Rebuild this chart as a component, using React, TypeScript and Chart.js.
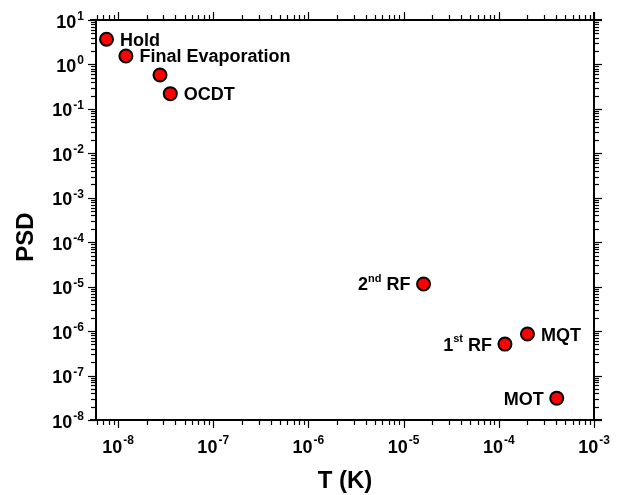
import React, { useEffect, useRef } from "react";
import { Chart, registerables } from "chart.js";

Chart.register(...registerables);

// ---- data ----
const labelMain = ["Hold", "Final Evaporation", "", "OCDT", "2", "1", "MQT", "MOT"];
const labelSup = ["", "", "", "", "nd", "st", "", ""];
const labelTail = ["", "", "", "", " RF", " RF", "", ""];
const labelSide = ["right", "right", "right", "right", "left", "left", "right", "left"];
const temperatureK = [7.57e-9, 1.21e-8, 2.76e-8, 3.54e-8, 1.62e-5, 1.16e-4, 2.0e-4, 4.06e-4];
const psd = [3.7, 1.55, 0.58, 0.22, 1.15e-5, 5.1e-7, 8.6e-7, 3.1e-8];
const xTickExponents = [-8, -7, -6, -5, -4, -3];
const yTickExponents = [1, 0, -1, -2, -3, -4, -5, -6, -7, -8];
const xMin = 5.87e-9;
const xMax = 1e-3;
const yMin = 1e-8;
const yMax = 10;
const xTitle = "T (K)";
const yTitle = "PSD";

const FONT = "'Liberation Sans', Arial, Helvetica, sans-serif";

function drawPow(
  ctx: CanvasRenderingContext2D,
  exp: number,
  x: number,
  cy: number,
  align: "center" | "right",
  supRaise: number
) {
  const base = "10";
  const sup = exp < 0 ? "-" + Math.abs(exp) : String(exp);
  ctx.font = `bold 18px ${FONT}`;
  const wb = ctx.measureText(base).width;
  ctx.font = `bold 12px ${FONT}`;
  const ws = ctx.measureText(sup).width;
  const total = wb + 1 + ws;
  const start = align === "center" ? x - total / 2 : x - total;
  ctx.textAlign = "left";
  ctx.textBaseline = "alphabetic";
  ctx.font = `bold 18px ${FONT}`;
  ctx.fillText(base, start, cy + 6.5);
  ctx.font = `bold 12px ${FONT}`;
  ctx.fillText(sup, start + wb + 1, cy - supRaise);
}

const overlayPlugin = {
  id: "overlay",
  afterDraw(chart: any) {
    const ctx: CanvasRenderingContext2D = chart.ctx;
    const xs = chart.scales.x;
    const ys = chart.scales.y;
    const L = xs.left, R = xs.right, T = ys.top, B = ys.bottom;
    const line = (x1: number, y1: number, x2: number, y2: number) => {
      ctx.beginPath();
      ctx.moveTo(x1, y1);
      ctx.lineTo(x2, y2);
      ctx.stroke();
    };
    ctx.save();
    ctx.strokeStyle = "#000";
    ctx.fillStyle = "#000";
    ctx.lineWidth = 2;
    line(L - 6, T, R + 8, T);
    line(L - 6, B, R + 8, B);
    line(L, T, L, B + 1);
    line(R, T - 8, R, B + 1);

    ctx.lineWidth = 1.2;
    for (let e = -9; e <= -3; e++) {
      for (let m = 1; m <= 9; m++) {
        const v = m * Math.pow(10, e);
        if (v < xs.min * 0.999 || v > xs.max * 1.001) continue;
        const px = Math.round(xs.getPixelForValue(v)) + 0.5;
        const len = m === 1 ? 8 : 5;
        line(px, B, px, B + len);
        line(px, T, px, T - len);
      }
    }
    for (let e = -8; e <= 1; e++) {
      for (let m = 1; m <= 9; m++) {
        const v = m * Math.pow(10, e);
        if (v < ys.min * 0.999 || v > ys.max * 1.001) continue;
        const py = Math.round(ys.getPixelForValue(v)) + 0.5;
        const len = m === 1 ? 8 : 5;
        line(L - len, py, L, py);
        line(R, py, R + len, py);
      }
    }

    // tick labels
    for (const e of xTickExponents) {
      const px = xs.getPixelForValue(Math.pow(10, e));
      drawPow(ctx, e, px, B + 26.5, "center", 3);
    }
    for (const e of yTickExponents) {
      const py = ys.getPixelForValue(Math.pow(10, e));
      drawPow(ctx, e, L - 12, py + 1, "right", 1);
    }

    // axis titles
    ctx.font = `bold 24px ${FONT}`;
    ctx.textAlign = "center";
    ctx.textBaseline = "middle";
    ctx.fillText(xTitle, (L + R) / 2, B + 61);
    ctx.save();
    ctx.translate(26, 237);
    ctx.rotate(-Math.PI / 2);
    ctx.fillText(yTitle, 0, 0);
    ctx.restore();

    // point labels
    for (let i = 0; i < labelMain.length; i++) {
      if (!labelMain[i]) continue;
      const px = xs.getPixelForValue(temperatureK[i]);
      const py = ys.getPixelForValue(psd[i]);
      ctx.textAlign = "left";
      ctx.textBaseline = "alphabetic";
      ctx.font = `bold 18px ${FONT}`;
      const w1 = ctx.measureText(labelMain[i]).width;
      const w3 = labelTail[i] ? ctx.measureText(labelTail[i]).width : 0;
      ctx.font = `bold 11px ${FONT}`;
      const w2 = labelSup[i] ? ctx.measureText(labelSup[i]).width : 0;
      const total = w1 + w2 + w3;
      let sx = labelSide[i] === "right" ? px + 13.5 : px - 13 - total;
      ctx.font = `bold 18px ${FONT}`;
      ctx.fillText(labelMain[i], sx, py + 6.5);
      sx += w1;
      if (labelSup[i]) {
        ctx.font = `bold 11px ${FONT}`;
        ctx.fillText(labelSup[i], sx, py - 2);
        sx += w2;
      }
      if (labelTail[i]) {
        ctx.font = `bold 18px ${FONT}`;
        ctx.fillText(labelTail[i], sx, py + 6.5);
      }
    }
    ctx.restore();
  },
};

export default function App() {
  const ref = useRef<HTMLCanvasElement | null>(null);
  useEffect(() => {
    if (!ref.current) return;
    const points = temperatureK.map((t, i) => ({ x: t, y: psd[i] }));
    const chart = new Chart(ref.current, {
      type: "scatter",
      data: {
        datasets: [
          {
            data: points,
            pointRadius: 6.5,
            pointBackgroundColor: "#ff0000",
            pointBorderColor: "#000000",
            pointBorderWidth: 2,
          },
          {
            data: points,
            pointRadius: 0.8,
            pointBackgroundColor: "#000000",
            pointBorderWidth: 0,
          },
        ],
      },
      options: {
        animation: false,
        responsive: false,
        events: [],
        layout: { padding: { left: 96, right: 33, top: 20, bottom: 75 } },
        plugins: { legend: { display: false }, tooltip: { enabled: false } },
        scales: {
          x: { type: "logarithmic", min: xMin, max: xMax, display: false },
          y: { type: "logarithmic", min: yMin, max: yMax, display: false },
        },
      },
      plugins: [overlayPlugin],
    });
    return () => chart.destroy();
  }, []);
  return (
    <div style={{ position: "absolute", left: 0, top: 0, width: 627, height: 495, background: "#fff" }}>
      <canvas ref={ref} width={627} height={495} style={{ display: "block" }} />
    </div>
  );
}
